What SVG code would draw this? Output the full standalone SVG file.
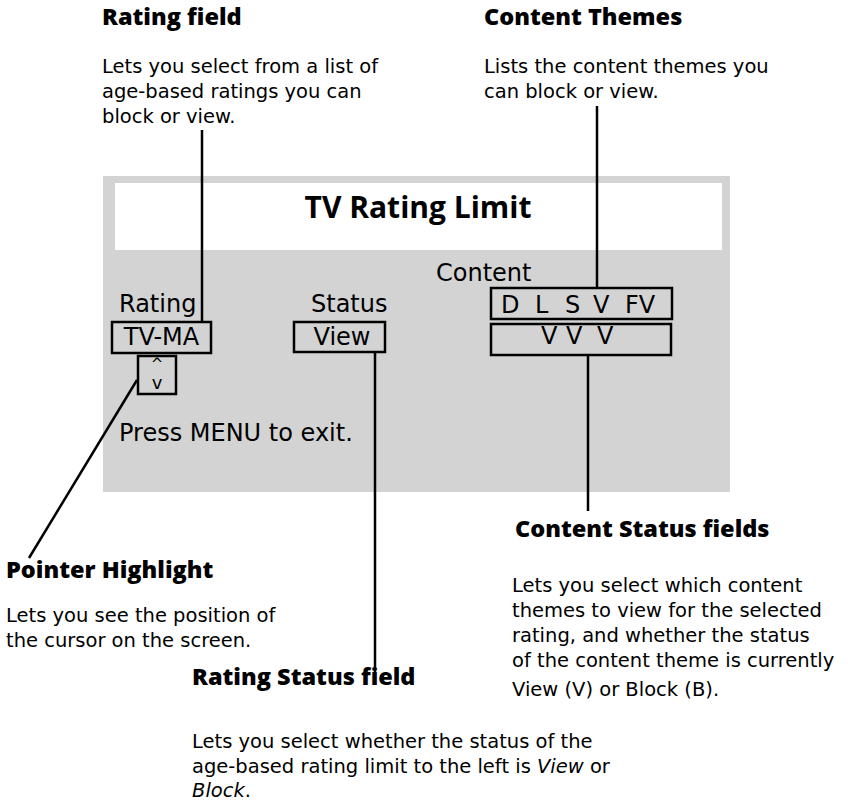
<svg xmlns="http://www.w3.org/2000/svg" width="848" height="803" viewBox="0 0 848 803">
<style>
text{font-family:"Open Sans","Noto Sans","Liberation Sans",sans-serif;fill:#000}
.h{font-size:23.5px;font-weight:800}
.d{font-family:"DejaVu Sans","Open Sans",sans-serif;font-size:19.5px}
.s{font-family:"DejaVu Sans","Open Sans",sans-serif;font-size:24px}
.box{fill:none;stroke:#000;stroke-width:2.5}
.ln{stroke:#000;stroke-width:2.5;fill:none}
</style>
<rect width="848" height="803" fill="#fff"/>
<g id="screen">
<rect x="103" y="176" width="627" height="316" fill="#d3d3d3"/>
<rect x="115" y="183" width="607" height="67" fill="#fff"/>
<text x="418" y="218" text-anchor="middle" style="font-size:30px;font-weight:bold">TV Rating Limit</text>
<text class="s" x="119" y="312">Rating</text>
<text class="s" x="311" y="312">Status</text>
<text class="s" x="436" y="281">Content</text>
<text class="s" x="119" y="441">Press MENU to exit.</text>
</g>
<g id="rating-box">
<rect class="box" x="112" y="322" width="99" height="31"/>
<text class="s" x="161.5" y="345" text-anchor="middle">TV-MA</text>
</g>
<g id="pointer-box">
<rect class="box" x="138" y="356" width="38" height="38"/>
<text x="157" y="369" text-anchor="middle" style="font-family:'DejaVu Sans',sans-serif;font-size:15px">^</text>
<text x="157" y="389" text-anchor="middle" style="font-family:'DejaVu Sans',sans-serif;font-size:18px">v</text>
</g>
<g id="status-box">
<rect class="box" x="294" y="322" width="91" height="30"/>
<text class="s" x="342" y="345" text-anchor="middle">View</text>
</g>
<g id="themes-box">
<rect class="box" x="491" y="288" width="181" height="31"/>
<text class="s" x="501" y="313">D</text>
<text class="s" x="535" y="313">L</text>
<text class="s" x="565" y="313">S</text>
<text class="s" x="593" y="313">V</text>
<text class="s" x="625" y="313">FV</text>
</g>
<g id="content-status-box">
<rect class="box" x="491" y="324" width="180" height="31"/>
<text class="s" x="541" y="344">V</text>
<text class="s" x="566" y="344">V</text>
<text class="s" x="597" y="344">V</text>
</g>
<g id="connectors">
<line class="ln" x1="202" y1="130" x2="202" y2="322"/>
<line class="ln" x1="597" y1="106" x2="597" y2="288"/>
<line class="ln" x1="137" y1="380" x2="29" y2="558"/>
<line class="ln" x1="375" y1="352" x2="375" y2="672"/>
<line class="ln" x1="588" y1="355" x2="588" y2="511"/>
</g>
<g id="rating-field">
<text class="h" x="102" y="25">Rating field</text>
<text class="d" x="102" y="73">Lets you select from a list of</text>
<text class="d" x="102" y="98">age-based ratings you can</text>
<text class="d" x="102" y="123">block or view.</text>
</g>
<g id="content-themes">
<text class="h" x="484" y="25">Content Themes</text>
<text class="d" x="484" y="73">Lists the content themes you</text>
<text class="d" x="484" y="98">can block or view.</text>
</g>
<g id="pointer-highlight">
<text class="h" x="6" y="578">Pointer Highlight</text>
<text class="d" x="6" y="622">Lets you see the position of</text>
<text class="d" x="6" y="647">the cursor on the screen.</text>
</g>
<g id="content-status-fields">
<text class="h" x="515" y="537">Content Status fields</text>
<text class="d" x="512" y="592">Lets you select which content</text>
<text class="d" x="512" y="617">themes to view for the selected</text>
<text class="d" x="512" y="642">rating, and whether the status</text>
<text class="d" x="512" y="667">of the content theme is currently</text>
<text class="d" x="512" y="696">View (V) or Block (B).</text>
</g>
<g id="rating-status-field">
<text class="h" x="192" y="685">Rating Status field</text>
<text class="d" x="192" y="748">Lets you select whether the status of the</text>
<text class="d" x="192" y="773">age-based rating limit to the left is <tspan font-style="italic">View</tspan> or</text>
<text class="d" x="192" y="797"><tspan font-style="italic">Block</tspan>.</text>
</g>
</svg>
